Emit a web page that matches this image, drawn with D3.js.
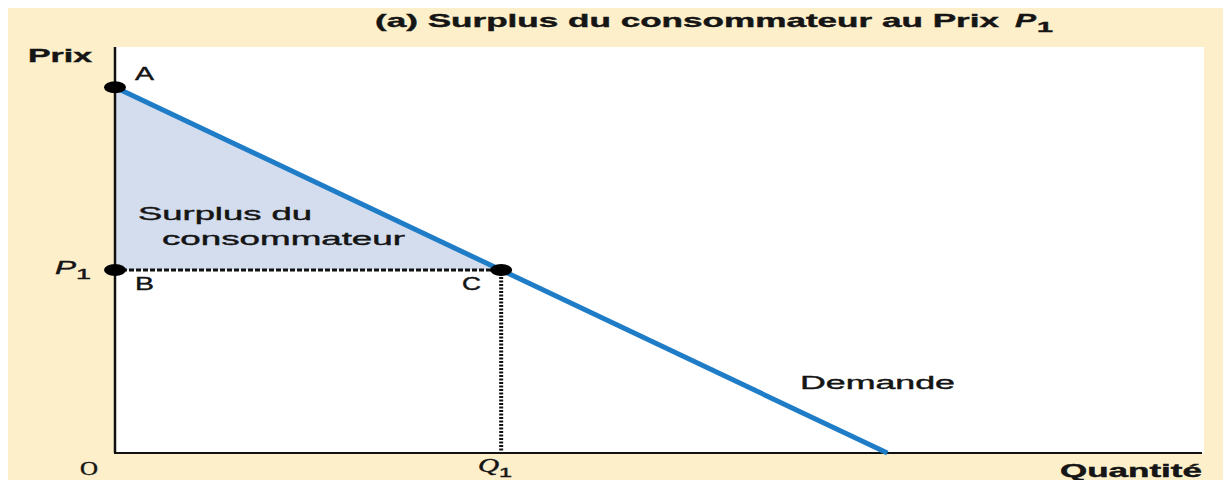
<!DOCTYPE html>
<html lang="fr">
  <head>
    <meta charset="utf-8" />
    <title>Surplus du consommateur</title>
    <script type="text/javascript" src="https://d3js.org/d3.v7.min.js"></script>
    <style>
      body { margin: 0; background: #fff; }
      text { font-family: "Liberation Sans", Arial, sans-serif; fill: #151515; stroke: #151515; stroke-width: 0.4; }
    </style>
  </head>
  <body>
    <div id="graph"></div>

    <script type="text/javascript">
      /***************
       * data
       ***************/

      const demandEnds = [{ q: 0, p: 10 }, { q: 10, p: 0 }]; // demand line
      const priceP1 = 5;
      const quantityQ1 = 5;
      const pointNames = ["A", "B", "C"];
      const pointValues = [
        { q: 0, p: 10 },
        { q: 0, p: priceP1 },
        { q: quantityQ1, p: priceP1 }
      ];
      const axisLabels = ["Prix", "Quantité", "O"];

      /***************************
       * create svg
       **************************/

      const width = 1223;
      const height = 480;
      const plot = { left: 115, right: 1204, top: 47, bottom: 453 };

      const svg = d3
        .select("div#graph")
        .append("svg")
        .attr("width", width)
        .attr("height", height);

      // beige frame + white plot area
      svg.append("rect").attr("x", 8).attr("y", 8)
        .attr("width", width - 8).attr("height", height - 8)
        .attr("fill", "#fcefca");
      svg.append("rect").attr("x", plot.left).attr("y", plot.top)
        .attr("width", plot.right - plot.left).attr("height", plot.bottom - plot.top)
        .attr("fill", "#ffffff");

      /********************
       * scales
       ********************/

      const x = d3.scaleLinear().domain([0, 14.1]).range([plot.left, plot.right]);
      const y = d3.scaleLinear().domain([0, 11.1]).range([plot.bottom, plot.top]);

      // surplus triangle A-B-C
      svg.append("path")
        .attr("d", d3.line().x(d => x(d.q)).y(d => y(d.p))(pointValues) + "Z")
        .attr("fill", "#d3ddee");

      // dotted guides
      svg.append("line")
        .attr("x1", x(0)).attr("x2", x(quantityQ1))
        .attr("y1", y(priceP1)).attr("y2", y(priceP1))
        .attr("stroke", "#111").attr("stroke-width", 3)
        .attr("stroke-dasharray", "5,2");
      svg.append("line")
        .attr("x1", x(quantityQ1)).attr("x2", x(quantityQ1))
        .attr("y1", y(priceP1)).attr("y2", y(0))
        .attr("stroke", "#111").attr("stroke-width", 4)
        .attr("stroke-dasharray", "2,1.5");

      // axes (just lines, no ticks)
      svg.append("line")
        .attr("x1", x(0)).attr("x2", x(0))
        .attr("y1", plot.top).attr("y2", y(0))
        .attr("stroke", "#111").attr("stroke-width", 2.5);
      svg.append("line")
        .attr("x1", x(0) - 1).attr("x2", plot.right - 2)
        .attr("y1", y(0)).attr("y2", y(0))
        .attr("stroke", "#111").attr("stroke-width", 2);

      // demand line
      svg.append("path")
        .attr("d", d3.line().x(d => x(d.q)).y(d => y(d.p))(demandEnds))
        .attr("stroke", "#1f7cc6").attr("stroke-width", 5)
        .attr("fill", "none");

      // points
      svg.selectAll("ellipse.pt")
        .data([pointValues[0], pointValues[1], pointValues[2]])
        .enter()
        .append("ellipse")
        .attr("class", "pt")
        .attr("cx", d => x(d.q))
        .attr("cy", d => y(d.p))
        .attr("rx", 11)
        .attr("ry", 6)
        .attr("fill", "#000");

      /**************
       * labels (text is stretched wide like the picture)
       **************/

      function label(str, px, py, len, opts) {
        opts = opts || {};
        return svg.append("text")
          .attr("x", px).attr("y", py)
          .attr("font-size", opts.size || 17)
          .attr("font-weight", opts.bold ? "bold" : "normal")
          .attr("font-style", opts.italic ? "italic" : "normal")
          .style("font-family", opts.family || null)
          .attr("textLength", len)
          .attr("lengthAdjust", "spacingAndGlyphs")
          .text(str);
      }

      // title
      label("(a) Surplus du consommateur au Prix", 375, 27, 624, { bold: true, size: 19 });
      label("P", 1015, 27, 21, { bold: true, italic: true, size: 19 });
      label("1", 1037, 32, 16, { bold: true, size: 14 });

      // axis names
      label(axisLabels[0], 28, 62, 64, { bold: true, size: 18 });
      label(axisLabels[1], 1060, 477, 142, { bold: true, size: 18 });
      label(axisLabels[2], 80, 475, 18, { size: 19, family: "Liberation Serif" });

      // P1 and Q1
      label("P", 55, 274, 21, { italic: true, size: 18 });
      label("1", 76, 279, 15, { size: 14 });
      label("Q", 478, 472, 21, { italic: true, size: 18, family: "Liberation Serif" });
      label("1", 499, 477, 13, { size: 13 });

      // point letters
      const letterPos = [[135, 80], [135, 290], [462, 290]];
      pointNames.forEach((n, i) => label(n, letterPos[i][0], letterPos[i][1], 19, { size: 18 }));

      // surplus text & demand
      label("Surplus du", 138, 220, 174, { size: 18 });
      label("consommateur", 162, 245, 243, { size: 18 });
      label("Demande", 800, 389, 155, { size: 18 });
    </script>
  </body>
</html>
